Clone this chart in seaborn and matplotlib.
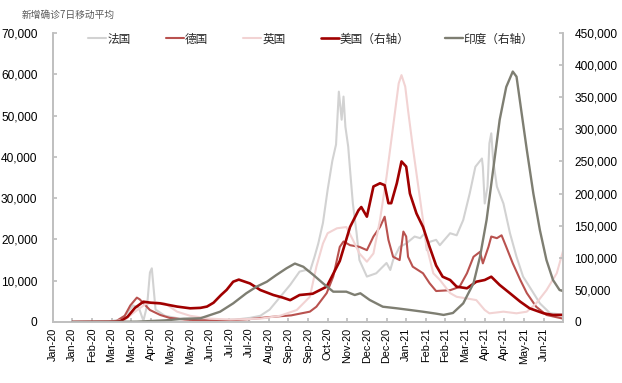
import numpy as np
import pandas as pd
import matplotlib
matplotlib.use("Agg")
import matplotlib.pyplot as plt
import seaborn as sns
from matplotlib.ticker import FuncFormatter

# ---------------- data (days since 2020-01-01, values in thousands) ----------------
france_days = [21, 60, 70, 77, 86, 92, 97, 101, 104, 106, 108, 110, 120, 136, 157, 184, 200, 211,
               222, 232, 243, 254, 264, 271, 275, 280, 284, 289, 294, 299, 303, 306, 309, 311, 313,
               316, 318, 321, 325, 328, 336, 346, 357, 361, 364, 371, 378, 387, 393, 398, 400, 403,
               410, 414, 425, 432, 439, 446, 452, 459, 460, 462, 465, 467, 469, 471, 475, 482, 489,
               496, 503, 510, 521, 532, 546]
france_vals = [0, 0.1, 0.5, 1.5, 4.0, 3.5, 0.3, 4, 12, 13, 8, 3, 1.5, 0.8, 0.5, 0.5, 0.7, 1.0,
               1.5, 3, 6, 9, 12.2, 12.6, 12.2, 15.8, 19, 24, 32, 39, 43, 55.8, 49, 54.6, 47.3,
               42.5, 36.8, 28.7, 21.5, 15, 11, 11.8, 14.3, 12.6, 15, 18.2, 19, 20.7, 20.3, 21.5, 17.4, 19.4,
               19.9, 18.6, 21.5, 21, 24.7, 31.2, 37.6, 39.6, 37.6, 28.7, 32.8, 43.3, 45.7, 39.2, 32.8, 28.7, 21.5,
               15.8, 11, 8.5, 4.5, 2.1, 1.8]

germany_days = [21, 60, 68, 77, 83, 90, 93, 104, 115, 125, 141, 157, 190, 211, 232, 255, 275, 282,
                293, 300, 307, 311, 318, 328, 336, 343, 350, 355, 359, 364, 371, 375, 378, 380, 385,
                396, 403, 410, 425, 435, 443, 450, 457, 460, 466, 469, 475, 480, 485, 492, 500, 507,
                517, 528, 546]
germany_vals = [0, 0.1, 0.2, 1.5, 4, 5.9, 5.5, 2.9, 1.7, 1.0, 0.6, 0.4, 0.4, 0.7, 1.2, 1.6, 2.5, 3.7,
                7, 11, 18.2, 19.5, 18.6, 18.2, 17.4, 20.7, 23, 25.5, 19.9, 15.8, 15, 21.9, 20.7, 15.8, 13.4,
                11.8, 9.4, 7.5, 7.7, 8.5, 11.8, 15.8, 17, 14.2, 18.2, 20.7, 20.3, 21, 18.2, 14.2, 10.2, 7,
                3.7, 1.7, 0.8]

uk_days = [21, 60, 77, 88, 99, 109, 120, 133, 147, 168, 190, 222, 243, 261, 275, 282, 289, 294,
           304, 314, 321, 328, 336, 343, 350, 357, 364, 370, 373, 377, 380, 385, 393, 400, 407,
           414, 425, 432, 443, 453, 462, 467, 482, 496, 507, 517, 528, 539, 546]
uk_vals = [0, 0.05, 0.5, 2.5, 4.3, 4.8, 4.5, 2.5, 1.5, 0.8, 0.6, 0.8, 1.5, 2.9, 6.1, 13.4, 19, 21.5,
           22.7, 23, 19.9, 16.6, 14.6, 16.6, 24.7, 35.2, 47.3, 57.8, 59.8, 57, 51.3, 42.5, 29.5, 18.2, 11.8,
           10.2, 7, 6.1, 5.7, 5.3, 2.9, 2.1, 2.5, 2.1, 2.5, 4.5, 7.7, 11.8, 17.4]

us_days = [21, 60, 72, 80, 88, 97, 105, 115, 133, 147, 158, 165, 172, 180, 186, 193, 199, 211,
           222, 236, 246, 254, 264, 278, 293, 307, 318, 327, 330, 336, 343, 350, 355, 359, 362,
           368, 373, 378, 382, 389, 396, 403, 410, 417, 425, 432, 443, 453, 462, 469, 478, 489,
           500, 510, 525, 535, 546]
us_vals = [0, 0.1, 1, 8, 22, 31.6, 30, 29, 24, 21.3, 22, 24, 30, 42, 50, 62.7, 66, 60,
           49.8, 42, 38, 34, 42, 44, 55, 95, 148, 174, 179, 164, 211, 216, 213, 185, 185,
           216, 250, 242, 200, 169, 148, 117, 88, 70.5, 65.4, 55, 52.5, 62.7, 65.4, 70.5, 57.6, 44.7,
           31.6, 21.3, 13.5, 10.9, 11]

india_days = [21, 60, 90, 120, 140, 158, 179, 193, 207, 218, 229, 239, 250, 259, 268, 279, 289,
              300, 314, 323, 329, 339, 353, 368, 382, 396, 410, 418, 428, 439, 450, 457, 464, 471,
              478, 485, 492, 496, 501, 507, 514, 521, 528, 535, 542, 546]
india_vals = [0, 0.1, 0.5, 2.5, 5, 5.8, 16, 29, 44.7, 55, 62.7, 73, 83.6, 91, 86, 73, 60.3,
              47.2, 47.2, 42, 44.7, 34.3, 23.8, 21.3, 18.7, 16, 13, 11, 14, 29, 60.3, 102, 159, 237,
              315, 366, 390, 382, 330, 268, 200, 143, 96.5, 65.4, 49.8, 48]

names = ["法国", "德国", "英国", "美国（右轴）", "印度（右轴）"]
colors = ["#d2d2d2", "#b9524f", "#f2d3d3", "#a00000", "#7e7e72"]
tick_start = "2020-01-01"
title_text = "新增确诊7日移动平均"

# ---------------- style ----------------
sns.set_theme(style="white")
plt.rcParams["font.family"] = ["Liberation Sans", "Noto Sans CJK SC", "DejaVu Sans"]

base = pd.Timestamp("2020-01-01")
def to_df(days, vals):
    return pd.DataFrame({"date": base + pd.to_timedelta(days, unit="D"),
                         "val": np.array(vals, dtype=float) * 1000})

fig = plt.figure(figsize=(6.22, 3.83), dpi=100)
ax = fig.add_axes([0.0847, 0.1593, 0.8209, 0.7545])
ax2 = ax.twinx()

lines = []
for days, vals, c, lw in [(france_days, france_vals, colors[0], 1.5),
                          (germany_days, germany_vals, colors[1], 1.5),
                          (uk_days, uk_vals, colors[2], 1.5)]:
    d = to_df(days, vals)
    sns.lineplot(data=d, x="date", y="val", ax=ax, color=c, lw=lw)
    lines.append(ax.get_lines()[-1])

for days, vals, c, lw in [(us_days, us_vals, colors[3], 1.9),
                          (india_days, india_vals, colors[4], 1.7)]:
    d = to_df(days, vals)
    sns.lineplot(data=d, x="date", y="val", ax=ax2, color=c, lw=lw)
    lines.append(ax2.get_lines()[-1])

ax.set_ylim(0, 70000)
ax2.set_ylim(0, 450000)
ax.set_yticks(np.arange(0, 70001, 10000))
ax2.set_yticks(np.arange(0, 450001, 50000))
fmt = FuncFormatter(lambda v, p: f"{v:,.0f}")
ax.yaxis.set_major_formatter(fmt)
ax2.yaxis.set_major_formatter(fmt)

ticks = pd.date_range(tick_start, periods=26, freq="21D")
ax.set_xlim(base, base + pd.Timedelta(days=546))
ax.set_xticks(ticks)
ax.set_xticklabels([t.strftime("%b-%y") for t in ticks], rotation=90)
ax.set_xlabel("")
ax.set_ylabel("")
ax2.set_ylabel("")

spine_c = "#bfbfbf"
for a in (ax, ax2):
    a.spines["top"].set_visible(False)
    for s in ("left", "right", "bottom"):
        a.spines[s].set_color(spine_c)
        a.spines[s].set_linewidth(1.2)
    a.grid(False)
ax.tick_params(axis="y", direction="in", length=3, pad=11, color=spine_c, labelsize=8.6,
               left=True, labelcolor="black")
ax2.tick_params(axis="y", direction="in", length=3, pad=8, color=spine_c, labelsize=8.6,
                right=True, labelcolor="black")
ax.tick_params(axis="x", direction="in", length=3, pad=4, color=spine_c, labelsize=7.8,
               bottom=True, labelcolor="black")

fig.legend(lines, names, loc="center left", bbox_to_anchor=(88 / 622, 1 - 39.5 / 383),
           ncol=5, frameon=False, fontsize=8.4, handlelength=1.55, handletextpad=0.1,
           columnspacing=3.0, borderpad=0, borderaxespad=0,
           prop={"family": ["Liberation Sans", "Noto Sans CJK SC"], "size": 8.4})

fig.text(22 / 622, 1 - 15 / 383, title_text, fontsize=7, color="#595959",
         va="center", ha="left", family=["Noto Sans CJK SC"])

fig.savefig("out.png", dpi=100)
